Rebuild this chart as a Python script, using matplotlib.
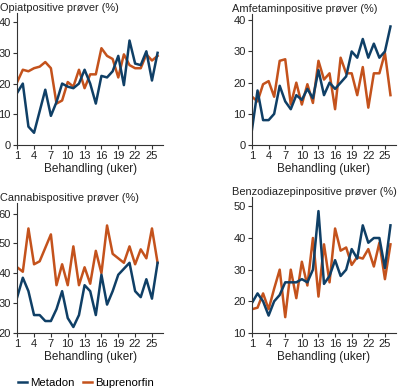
import matplotlib
matplotlib.use('Agg')
import numpy as np
import matplotlib.pyplot as plt
from matplotlib.lines import Line2D

plt.rcParams['font.family'] = ['Liberation Sans', 'DejaVu Sans']

uker = np.arange(1, 27)

# Opiat
opiat_metadon = [17, 20, 6, 4, 11, 18, 9.5, 14, 20, 19, 18.5, 20, 24.5, 20, 13.5,
                 22.5, 22, 24, 29, 19.5, 34, 26.5, 26, 30.5, 21, 30]
opiat_bup = [20.5, 24.5, 24, 25, 25.5, 27, 25, 13.5, 14.5, 20.5, 19, 24.5, 18.5, 23, 23,
             31.5, 29, 28, 22, 29.5, 26, 25, 25, 29.5, 27.5, 29]

# Amfetamin
amf_metadon = [5, 17.5, 8, 8, 10, 19, 14, 11.5, 16, 14.5, 18, 15, 24, 16, 20,
               18, 20, 22, 30, 28, 34, 28, 32.5, 28, 30, 38]
amf_bup = [15.5, 14, 19.5, 20.5, 15.5, 27, 27.5, 13, 20, 13, 19.5, 13.5, 27, 21, 23,
           11.5, 28, 23, 23, 16, 25, 12, 23, 23, 29.5, 16]

# Cannabis
can_metadon = [32, 38.5, 34, 26, 26, 24, 24, 28, 34, 25, 22, 26, 36, 34, 26,
               39.5, 29.5, 34, 39.5, 41.5, 43.5, 34, 32, 38, 31.5, 43.5]
can_bup = [42, 40.5, 55, 43, 44, 48.5, 53, 36, 43, 36, 49, 36, 42, 36.5, 47.5,
           40, 56, 46.5, 45, 43.5, 49, 43, 48, 45, 55, 43.5]

# Benzodiazepin
benzo_metadon = [19.5, 22.5, 20, 15.5, 20, 22, 26, 26, 26, 27, 26, 30, 48.5, 25.5, 28,
                 33, 28, 30, 36.5, 33.5, 44, 38.5, 40, 40, 30.5, 44]
benzo_bup = [17.5, 18, 22.5, 17.5, 24, 30, 15, 30, 21, 32.5, 25, 40, 21.5, 38, 26,
             43, 36, 37, 31.5, 34, 33.5, 36.5, 31, 38.5, 27, 38]

blaa = '#0f3f66'
oransje = '#c4521c'
xticks = [1, 4, 7, 10, 13, 16, 19, 22, 25]

paneler = [
    ('Opiatpositive prøver (%)', opiat_metadon, opiat_bup, [0.043, 0.627, 0.365, 0.34], (0, 43), [0, 10, 20, 30, 40], 0.0),
    ('Amfetaminpositive prøver (%)', amf_metadon, amf_bup, [0.63, 0.627, 0.36, 0.337], (0, 42), [0, 10, 20, 30, 40], 0.58),
    ('Cannabispositive prøver (%)', can_metadon, can_bup, [0.043, 0.144, 0.365, 0.334], (20, 63.5), [20, 30, 40, 50, 60], 0.0),
    ('Benzodiazepinpositive prøver (%)', benzo_metadon, benzo_bup, [0.63, 0.144, 0.36, 0.35], (10, 53), [10, 20, 30, 40, 50], 0.58),
]

fig = plt.figure(figsize=(4.0, 3.89), dpi=100)

for tittel, met, bup, pos, ylim, yticks, tx in paneler:
    ax = fig.add_axes(pos)
    ax.plot(uker, bup, color=oransje, linewidth=1.8)
    ax.plot(uker, met, color=blaa, linewidth=1.8)
    ax.set_xlim(1, 27)
    ax.set_ylim(*ylim)
    ax.set_xticks(xticks)
    ax.set_yticks(yticks)
    ax.spines['top'].set_visible(False)
    ax.spines['right'].set_visible(False)
    for s in ['left', 'bottom']:
        ax.spines[s].set_color('#333333')
        ax.spines[s].set_linewidth(0.8)
    ax.tick_params(length=3, width=0.8, color='#333333', labelsize=8, pad=1.5, labelcolor='#222222')
    ax.set_xlabel('Behandling (uker)', fontsize=8.5, labelpad=1, color='#222222')
    fig.text(tx, pos[1] + pos[3], tittel, fontsize=7.9, color='#222222', va='bottom', ha='left')

handles = [Line2D([], [], color=blaa, linewidth=1.8), Line2D([], [], color=oransje, linewidth=1.8)]
fig.legend(handles, ['Metadon', 'Buprenorfin'], loc='center', bbox_to_anchor=(0.215, 0.016),
           ncol=2, frameon=False, fontsize=8.2, handlelength=0.8, handletextpad=0.25,
           columnspacing=0.8, borderpad=0)

plt.savefig('out.png', dpi=100)
